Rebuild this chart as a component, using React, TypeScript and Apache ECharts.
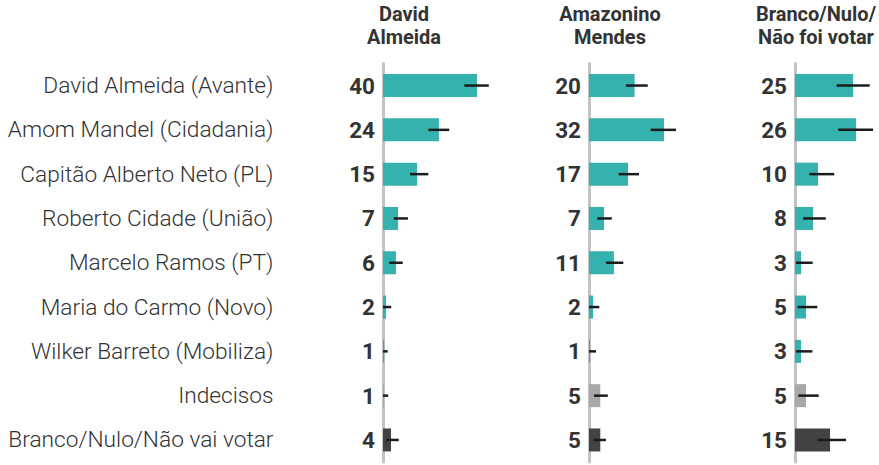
import React, { useEffect, useRef } from "react";
import * as echarts from "echarts";

const categories = [
  "David Almeida (Avante)",
  "Amom Mandel (Cidadania)",
  "Capitão Alberto Neto (PL)",
  "Roberto Cidade (União)",
  "Marcelo Ramos (PT)",
  "Maria do Carmo (Novo)",
  "Wilker Barreto (Mobiliza)",
  "Indecisos",
  "Branco/Nulo/Não vai votar",
];

const panelTitles = ["David\nAlmeida", "Amazonino\nMendes", "Branco/Nulo/\nNão foi votar"];

// Panel 1: David Almeida voters
const shownDavid = [40, 24, 15, 7, 6, 2, 1, 1, 4];
const barsDavid = [40, 23.8, 14.5, 6.4, 5.5, 1.3, 0.5, 0.4, 3.4];
const lowDavid = [34.6, 19.3, 11.5, 4.6, 2.7, 0, 0, 0, 1.3];
const highDavid = [45, 28.2, 19.3, 10.6, 8.4, 3.5, 2, 2.2, 6.7];

// Panel 2: Amazonino Mendes voters
const shownAmazonino = [20, 32, 17, 7, 11, 2, 1, 5, 5];
const barsAmazonino = [19.4, 31.9, 16.6, 6.4, 10.6, 1.7, 0.4, 4.8, 4.8];
const lowAmazonino = [15.7, 26.2, 12.6, 3.5, 7.2, 0, 0, 2.1, 1.8];
const highAmazonino = [25, 37, 21.3, 9.7, 14.6, 4.4, 3, 8, 7.2];

// Panel 3: Branco/Nulo/Não foi votar
const shownBranco = [25, 26, 10, 8, 3, 5, 3, 5, 15];
const barsBranco = [24.7, 26, 9.8, 7.7, 2.6, 4.7, 2.6, 4.7, 14.9];
const lowBranco = [17.7, 18.4, 6.1, 3.5, 0.4, 1.1, 0.4, 1.4, 9.5];
const highBranco = [31.8, 33.2, 16.7, 13.1, 7.5, 9.5, 7.4, 10.1, 21.7];

const TEAL = "#35b1ae";
const GREY = "#a8a8a8";
const DARK = "#434343";
const colorFor = (i: number) => (i === 7 ? GREY : i === 8 ? DARK : TEAL);

const FONT = "Roboto";
const PX_PER_PT = 2.35;
const GRID_TOP = 63.4;
const GRID_HEIGHT = 398.7;

const panels = [
  { left: 383, max: 50, shown: shownDavid, bars: barsDavid, low: lowDavid, high: highDavid },
  { left: 589, max: 50, shown: shownAmazonino, bars: barsAmazonino, low: lowAmazonino, high: highAmazonino },
  { left: 795, max: 35, shown: shownBranco, bars: barsBranco, low: lowBranco, high: highBranco },
];

export default function App() {
  const ref = useRef<HTMLDivElement>(null);

  useEffect(() => {
    if (!ref.current) return;
    const chart = echarts.init(ref.current, undefined, { renderer: "svg" });

    const grids = panels.map((p) => ({
      left: p.left,
      top: GRID_TOP,
      width: p.max * PX_PER_PT,
      height: GRID_HEIGHT,
      containLabel: false,
    }));

    const xAxes = panels.map((p, i) => ({
      type: "value",
      gridIndex: i,
      min: 0,
      max: p.max,
      show: false,
    }));

    const yAxes = panels.map((p, i) => ({
      type: "category",
      gridIndex: i,
      data: categories,
      inverse: true,
      offset: 1.5,
      axisLine: { show: true, lineStyle: { color: "#c3c3c3", width: 3 } },
      axisTick: { show: false },
      axisLabel:
        i === 0
          ? {
              show: true,
              margin: 108,
              fontFamily: FONT,
              fontSize: 22.7,
              fontWeight: 300,
              color: "#333333",
              align: "right",
            }
          : { show: false },
      splitLine: { show: false },
    }));

    const barSeries = panels.map((p, i) => ({
      type: "bar",
      xAxisIndex: i,
      yAxisIndex: i,
      barWidth: 23,
      z: 2,
      data: p.bars.map((v, k) => ({ value: v, itemStyle: { color: colorFor(k) } })),
      label: {
        show: true,
        position: "left",
        distance: 8,
        fontFamily: FONT,
        fontSize: 22.5,
        fontWeight: "bold",
        color: "#333333",
        formatter: (params: any) => String(p.shown[params.dataIndex]),
      },
    }));

    const errSeries = panels.map((p, i) => ({
      type: "custom",
      xAxisIndex: i,
      yAxisIndex: i,
      z: 3,
      clip: false,
      data: p.low.map((lo, k) => [lo, p.high[k], k]),
      encode: { x: [0, 1], y: 2 },
      renderItem: (params: any, api: any) => {
        const a = api.coord([api.value(0), api.value(2)]);
        const b = api.coord([api.value(1), api.value(2)]);
        return {
          type: "line",
          shape: { x1: a[0], y1: a[1], x2: b[0], y2: b[1] },
          style: { stroke: "#1c1c1c", lineWidth: 2.5 },
        };
      },
    }));

    const titles = panels.map((p, i) => ({
      type: "text",
      x: p.left + 21,
      y: 2,
      style: {
        text: panelTitles[i],
        fontFamily: FONT,
        fontSize: 20,
        fontWeight: "bold",
        fill: "#333333",
        textAlign: "center",
        textVerticalAlign: "top",
        lineHeight: 23,
      },
    }));

    chart.setOption({
      animation: false,
      backgroundColor: "#ffffff",
      grid: grids,
      xAxis: xAxes,
      yAxis: yAxes,
      series: [...barSeries, ...errSeries],
      graphic: titles,
    });

    return () => chart.dispose();
  }, []);

  return (
    <div
      ref={ref}
      style={{ position: "fixed", left: 0, top: 0, width: 879, height: 465 }}
    />
  );
}
